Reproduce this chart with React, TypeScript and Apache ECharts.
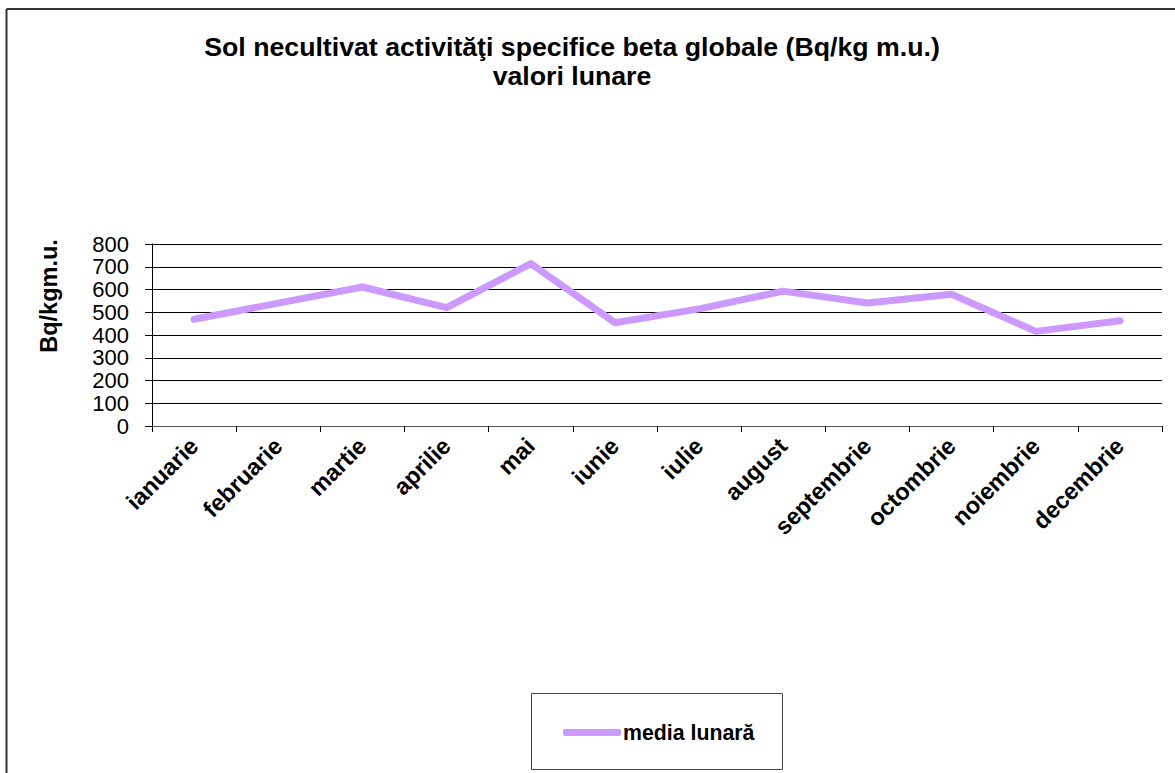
import React, { useEffect, useRef } from "react";
import * as echarts from "echarts";

const months = [
  "ianuarie",
  "februarie",
  "martie",
  "aprilie",
  "mai",
  "iunie",
  "iulie",
  "august",
  "septembrie",
  "octombrie",
  "noiembrie",
  "decembrie",
];
const mediaLunara = [469, 540, 611, 520, 714, 454, 515, 593, 541, 579, 416, 463];
const seriesName = "media lunară";
const titleText = "Sol necultivat activităţi specifice beta globale (Bq/kg m.u.)\nvalori lunare";
const yAxisName = "Bq/kgm.u.";

const FONT = "'Liberation Sans', Arial, Helvetica, sans-serif";

export default function App() {
  const ref = useRef<HTMLDivElement>(null);
  useEffect(() => {
    if (!ref.current) return;
    const chart = echarts.init(ref.current, null, { renderer: "svg" });
    chart.setOption({
      animation: false,
      backgroundColor: "#ffffff",
      title: {
        text: titleText,
        left: 567,
        top: 27,
        textAlign: "center",
        textStyle: {
          fontFamily: FONT,
          fontWeight: "bold",
          fontSize: 26.7,
          lineHeight: 29,
          color: "#000",
        },
      },
      grid: { left: 152, top: 244, right: 13, bottom: 347, containLabel: false },
      xAxis: {
        type: "category",
        data: months,
        boundaryGap: true,
        axisLine: { show: true, lineStyle: { color: "#555", width: 1 } },
        axisTick: { show: true, interval: 0, length: 6, lineStyle: { color: "#000" } },
        axisLabel: {
          interval: 0,
          rotate: 45,
          margin: 16,
          fontFamily: FONT,
          fontWeight: "bold",
          fontSize: 23.5,
          color: "#000",
        },
      },
      yAxis: {
        type: "value",
        min: 0,
        max: 800,
        interval: 100,
        axisLine: { show: true, lineStyle: { color: "#000", width: 1 } },
        axisTick: { show: true, length: 7, lineStyle: { color: "#000" } },
        axisLabel: {
          margin: 23,
          fontFamily: FONT,
          fontSize: 22,
          color: "#000",
        },
        splitLine: { show: true, lineStyle: { color: "#000", width: 1 } },
      },
      legend: {
        data: [seriesName],
        left: 563,
        top: 722,
        icon: "roundRect",
        itemWidth: 58,
        itemHeight: 7,
        itemGap: 4,
        padding: 0,
        textStyle: {
          fontFamily: FONT,
          fontWeight: "bold",
          fontSize: 21.3,
          color: "#000",
          padding: [0, 0, 0, -3],
        },
      },
      graphic: [
        {
          type: "line",
          shape: { x1: 6.5, y1: 9, x2: 1175, y2: 9 },
          style: { stroke: "#333", lineWidth: 2 },
        },
        {
          type: "line",
          shape: { x1: 6.5, y1: 9, x2: 6.5, y2: 773 },
          style: { stroke: "#333", lineWidth: 2 },
        },
        {
          type: "rect",
          shape: { x: 531.5, y: 693.5, width: 251, height: 76 },
          style: { fill: "none", stroke: "#444", lineWidth: 1 },
          z: -1,
        },
        {
          type: "text",
          x: 49,
          y: 296,
          rotation: Math.PI / 2,
          style: {
            text: yAxisName,
            fontFamily: FONT,
            fontWeight: "bold",
            fontSize: 23.5,
            fill: "#000",
            align: "center",
            verticalAlign: "middle",
          },
        },
      ],
      series: [
        {
          name: seriesName,
          type: "line",
          data: mediaLunara,
          symbol: "none",
          lineStyle: { color: "#CC99FF", width: 7, cap: "round", join: "round" },
          itemStyle: { color: "#CC99FF" },
        },
      ],
    });
    return () => chart.dispose();
  }, []);
  return (
    <div
      ref={ref}
      style={{ position: "absolute", left: 0, top: 0, width: 1175, height: 773, overflow: "hidden" }}
    />
  );
}
